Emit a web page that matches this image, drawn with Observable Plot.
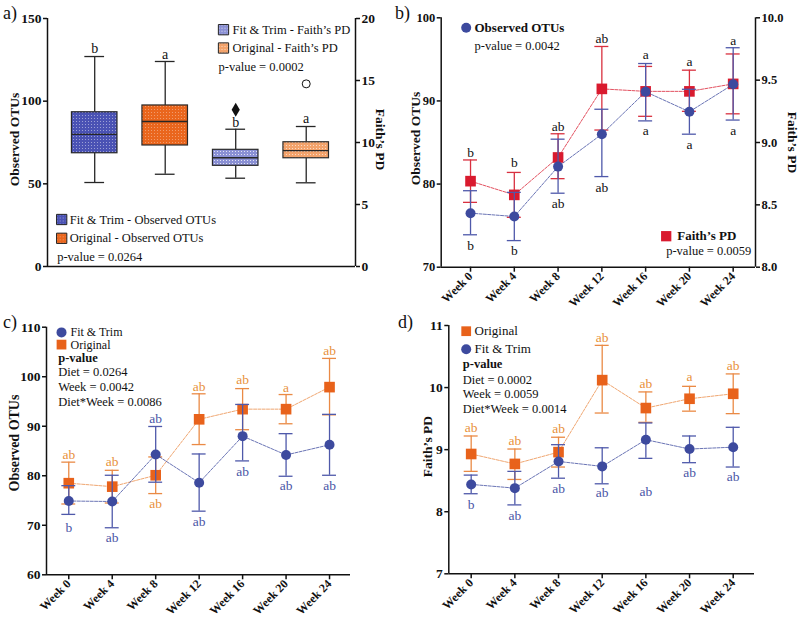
<!DOCTYPE html>
<html>
<head>
<meta charset="utf-8">
<script src="https://cdn.jsdelivr.net/npm/d3@7"></script>
<script src="https://cdn.jsdelivr.net/npm/@observablehq/plot@0.6"></script>
<style>
  html, body { margin: 0; padding: 0; background: #fff; }
  #fig { position: relative; width: 799px; height: 620px; overflow: hidden; background: #fff;
         font-family: "Liberation Serif", "Times New Roman", serif; }
  #fig svg text { font-family: "Liberation Serif", "Times New Roman", serif; }
  .plabel { position: absolute; font-size: 18px; line-height: 1; color: #111; }
</style>
</head>
<body>
<div id="fig">
  <svg width="0" height="0" style="position:absolute">
    <defs>
      <pattern id="patFtOtu" width="3" height="3" patternUnits="userSpaceOnUse">
        <rect width="3" height="3" fill="#4a52b4"/><rect x="1" y="1" width="1" height="1" fill="#ffffff" fill-opacity="0.45"/>
      </pattern>
      <pattern id="patOrOtu" width="3" height="3" patternUnits="userSpaceOnUse">
        <rect width="3" height="3" fill="#ea661d"/><rect x="1" y="1" width="1" height="1" fill="#ffffff" fill-opacity="0.35"/>
      </pattern>
      <pattern id="patFtPd" width="3" height="3" patternUnits="userSpaceOnUse">
        <rect width="3" height="3" fill="#8a90d4"/><rect x="1" y="1" width="1" height="1" fill="#ffffff" fill-opacity="0.75"/>
      </pattern>
      <pattern id="patOrPd" width="3" height="3" patternUnits="userSpaceOnUse">
        <rect width="3" height="3" fill="#f3a36c"/><rect x="1" y="1" width="1" height="1" fill="#ffffff" fill-opacity="0.6"/>
      </pattern>
    </defs>
  </svg>
  <div class="plabel" style="left:3px;top:4px">a)</div>
  <div class="plabel" style="left:395px;top:4px">b)</div>
  <div class="plabel" style="left:3px;top:313px">c)</div>
  <div class="plabel" style="left:398px;top:313px">d)</div>
</div>
<script>
// ================= DATA =================
const weeks = [0, 4, 8, 12, 16, 20, 24];
const weekLabels = ["Week 0", "Week 4", "Week 8", "Week 12", "Week 16", "Week 20", "Week 24"];

// ---- Panel a: box plots ----
const boxGroups = ["Fit & Trim - Observed OTUs", "Original - Observed OTUs", "Fit & Trim - Faith’s PD", "Original - Faith’s PD"];
const boxMetric = ["otu", "otu", "pd", "pd"];
const boxMin = [50.8, 55.8, 7.12, 6.75];
const boxQ1 = [68.5, 73.2, 8.12, 8.73];
const boxMedian = [79.9, 87.7, 8.77, 9.35];
const boxQ3 = [93.3, 97.4, 9.41, 10.02];
const boxMax = [127.0, 124.0, 11.07, 11.29];
const boxLetters = ["b", "a", "b", "a"];
const boxLetterY = [131.9, 128.2, 11.64, 11.91];
const outlierGroups = ["Fit & Trim - Faith’s PD", "Original - Faith’s PD"];
const outlierValues = [12.64, 14.73];
const aPvalueOTU = "p-value = 0.0264";
const aPvaluePD = "p-value = 0.0002";

// ---- Panel b: Observed OTUs (left) and Faith's PD (right) ----
const bOtuMean = [76.5, 76.1, 82.1, 86.0, 91.1, 88.7, 92.0];
const bOtuLow  = [73.9, 73.2, 78.9, 80.9, 87.6, 86.0, 87.7];
const bOtuHigh = [79.2, 79.0, 85.4, 89.0, 94.5, 91.4, 96.4];
const bPdMean = [8.69, 8.58, 8.88, 9.43, 9.41, 9.41, 9.47];
const bPdLow  = [8.52, 8.40, 8.71, 9.10, 9.21, 9.25, 9.23];
const bPdHigh = [8.86, 8.76, 9.07, 9.77, 9.61, 9.58, 9.71];
const bTopLetters = ["b", "b", "ab", "ab", "a", "a", "a"];
const bTopLetterY = [83.75, 82.55, 86.9, 97.5, 95.6, 94.7, 97.2];
const bBottomLetters = ["b", "b", "ab", "ab", "a", "a", "a"];
const bBottomLetterY = [72.6, 72.0, 77.6, 79.6, 86.4, 84.75, 86.4];
const bPvalueOTU = "p-value = 0.0042";
const bPvaluePD = "p-value = 0.0059";

// ---- Panel c: Observed OTUs by diet ----
const cFtMean = [74.9, 74.8, 84.3, 78.6, 88.0, 84.2, 86.25];
const cFtLow  = [72.2, 69.5, 78.7, 72.85, 83.0, 79.9, 80.1];
const cFtHigh = [78.0, 80.1, 89.95, 84.4, 94.4, 88.5, 92.4];
const cOrMean = [78.5, 77.8, 80.1, 91.4, 93.45, 93.45, 97.9];
const cOrLow  = [74.3, 74.5, 76.4, 86.3, 89.3, 90.5, 92.3];
const cOrHigh = [82.75, 81.1, 83.8, 96.55, 97.6, 96.4, 103.7];
const cOrLetters = ["ab", "ab", "ab", "ab", "ab", "a", "ab"];
const cOrLetterY = [84.2, 82.9, 74.35, 97.9, 99.4, 97.8, 105.2];
const cFtLetters = ["b", "ab", "ab", "ab", "ab", "ab", "ab"];
const cFtLetterY = [69.5, 67.4, 91.5, 70.8, 80.9, 78.0, 78.0];
const cStats = ["Diet = 0.0264", "Week = 0.0042", "Diet*Week = 0.0086"];

// ---- Panel d: Faith's PD by diet ----
const dOrMean = [8.93, 8.77, 8.96, 10.12, 9.67, 9.82, 9.90];
const dOrLow  = [8.65, 8.52, 8.72, 9.59, 9.44, 9.62, 9.58];
const dOrHigh = [9.22, 9.01, 9.20, 10.68, 9.93, 10.02, 10.22];
const dFtMean = [8.44, 8.38, 8.81, 8.73, 9.16, 9.01, 9.04];
const dFtLow  = [8.29, 8.11, 8.54, 8.45, 8.86, 8.79, 8.72];
const dFtHigh = [8.59, 8.65, 9.08, 9.03, 9.43, 9.22, 9.36];
const dOrLetters = ["ab", "ab", "ab", "ab", "ab", "a", "ab"];
const dOrLetterY = [9.35, 9.14, 9.34, 10.81, 10.06, 10.17, 10.36];
const dFtLetters = ["b", "ab", "ab", "ab", "ab", "ab", "ab"];
const dFtLetterY = [8.12, 7.94, 8.37, 8.30, 8.32, 8.63, 8.56];
const dStats = ["Diet = 0.0002", "Week = 0.0059", "Diet*Week = 0.0014"];

// ================= STYLE =================
const FONT = '"Liberation Serif", "Times New Roman", serif';
const BLUE = "#3d4a9e", BLUE_BAR = "#4f59aa", BLUE_TXT = "#4a55a6";
const RED = "#d91a2e", RED_BAR = "#d9303f";
const ORANGE = "#e8621b", ORANGE_BAR = "#ea8a45", ORANGE_TXT = "#e8913b";
const INK = "#111";
const boxFill = {
  "Fit & Trim - Observed OTUs": "url(#patFtOtu)",
  "Original - Observed OTUs": "url(#patOrOtu)",
  "Fit & Trim - Faith’s PD": "url(#patFtPd)",
  "Original - Faith’s PD": "url(#patOrPd)"
};
const fig = document.getElementById("fig");
function svgStyle(left, top) {
  return {"position": "absolute", "left": left + "px", "top": top + "px", "background": "transparent",
          "overflow": "visible", "font-family": FONT, "color": INK, "font-size": "12px"};
}
const series = (m, lo, hi) => weeks.map((w, i) => ({week: w, mean: m[i], low: lo[i], high: hi[i]}));
const letters = (t, y) => weeks.map((w, i) => ({week: w, text: t[i], y: y[i]}));
const weekFmt = d => weekLabels[weeks.indexOf(d)];

function errorMarks(data, color, capHalf, sw = 1.3) {
  return [
    Plot.ruleX(data, {x: "week", y1: "low", y2: "high", stroke: color, strokeWidth: sw}),
    Plot.ruleY(data, {y: "high", x1: d => d.week - capHalf, x2: d => d.week + capHalf, stroke: color, strokeWidth: sw}),
    Plot.ruleY(data, {y: "low", x1: d => d.week - capHalf, x2: d => d.week + capHalf, stroke: color, strokeWidth: sw})
  ];
}
const lineMark = (data, color) => Plot.line(data, {x: "week", y: "mean", stroke: color, strokeWidth: 0.9, strokeDasharray: "3 1.3", strokeOpacity: 0.85});
const legText = (text, dx, dy, o = {}) => Plot.text([text], {text: d => d, frameAnchor: "top-left", dx, dy, textAnchor: "start", lineAnchor: "middle", fontSize: 12.5, fill: INK, ...o});
const legDot = (dx, dy, o) => Plot.dot([0], {frameAnchor: "top-left", dx, dy, ...o});
const xAxisWeeks = () => Plot.axisX({ticks: weeks, tickFormat: weekFmt, tickRotate: -45, tickSize: 5, tickPadding: 2, fontWeight: "bold", fontSize: 12, strokeWidth: 1.5, label: null});
const yAxis = (ticks, fs, o = {}) => Plot.axisY({ticks, tickFormat: d3.format("d"), tickSize: 4, tickPadding: 2, fontWeight: "bold", fontSize: fs, strokeWidth: 1.5, label: null, ...o});
const yTitle = (text, anchor, dx, dy = 0, fs = 13) => Plot.text([text], {text: d => d, frameAnchor: anchor, dx, dy, rotate: anchor === "left" ? -90 : 90, textAnchor: "middle", lineAnchor: "middle", fontWeight: "bold", fontSize: fs, fill: INK});

// ================= PANEL a =================
const boxes = boxGroups.map((g, i) => ({group: g, pos: i, metric: boxMetric[i], min: boxMin[i], q1: boxQ1[i],
  median: boxMedian[i], q3: boxQ3[i], max: boxMax[i], letter: boxLetters[i], letterY: boxLetterY[i]}));
const outliers = outlierGroups.map((g, i) => ({group: g, pos: boxGroups.indexOf(g), value: outlierValues[i]}));
const BOXH = 0.323, CAPH = 0.14;
const aX = {type: "linear", domain: [-0.6695, 3.699], axis: null};
function boxMarks(data) {
  const k = "#262626";
  return [
    Plot.ruleX(data, {x: "pos", y1: "min", y2: "q1", stroke: k, strokeWidth: 1.3}),
    Plot.ruleX(data, {x: "pos", y1: "q3", y2: "max", stroke: k, strokeWidth: 1.3}),
    Plot.ruleY(data, {y: "max", x1: d => d.pos - CAPH, x2: d => d.pos + CAPH, stroke: k, strokeWidth: 1.3}),
    Plot.ruleY(data, {y: "min", x1: d => d.pos - CAPH, x2: d => d.pos + CAPH, stroke: k, strokeWidth: 1.3}),
    ...data.map(d => Plot.rect([d], {x1: e => e.pos - BOXH, x2: e => e.pos + BOXH, y1: "q1", y2: "q3",
      fill: boxFill[d.group], stroke: "#2a2a2a", strokeWidth: 1.2})),
    Plot.ruleY(data, {y: "median", x1: d => d.pos - BOXH, x2: d => d.pos + BOXH, stroke: k, strokeWidth: 1.3}),
    Plot.text(data, {x: "pos", y: "letterY", text: "letter", fontSize: 14, fill: INK})
  ];
}
const aMargins = {width: 400, height: 300, marginLeft: 47, marginRight: 45, marginTop: 18, marginBottom: 34};
const aOtu = Plot.plot({
  ...aMargins, x: aX, y: {domain: [0, 150]}, style: svgStyle(0, 0),
  marks: [
    ...boxMarks(boxes.filter(d => d.metric === "otu")),
    yAxis([0, 50, 100, 150], 13.5),
    Plot.ruleX([aX.domain[0]], {strokeWidth: 1.5}),
    Plot.ruleY([0], {strokeWidth: 1.5}),
    yTitle("Observed OTUs", "left", -33, -3, 13.5),
    legDot(14.2, 201, {symbol: "square", r: 5.8, fill: boxFill[boxGroups[0]], stroke: "#222", strokeWidth: 1}),
    legDot(14.2, 219.8, {symbol: "square", r: 5.8, fill: boxFill[boxGroups[1]], stroke: "#222", strokeWidth: 1}),
    legText(boxGroups[0], 22.3, 201),
    legText(boxGroups[1], 22.3, 219.8),
    legText(aPvalueOTU, 9.7, 238.7)
  ]
});
const aPd = Plot.plot({
  ...aMargins, x: aX, y: {domain: [0, 20]}, style: svgStyle(0, 0),
  marks: [
    ...boxMarks(boxes.filter(d => d.metric === "pd")),
    Plot.dot(outliers.filter((d, i) => i === 0), {x: "pos", y: "value", symbol: "diamond", r: 4.3, fill: INK}),
    Plot.dot(outliers.filter((d, i) => i === 1), {x: "pos", y: "value", symbol: "circle", r: 4, fill: "none", stroke: INK, strokeWidth: 1}),
    yAxis([0, 5, 10, 15, 20], 13.5, {anchor: "right"}),
    Plot.ruleX([aX.domain[1]], {strokeWidth: 1.5}),
    yTitle("Faith’s PD", "right", 25, -3, 13.5),
    legDot(176, 11.2, {symbol: "square", r: 5.8, fill: boxFill[boxGroups[2]], stroke: "#222", strokeWidth: 1}),
    legDot(176, 29.5, {symbol: "square", r: 5.8, fill: boxFill[boxGroups[3]], stroke: "#222", strokeWidth: 1}),
    legText(boxGroups[2], 185, 11.2),
    legText(boxGroups[3], 185, 29.5),
    legText(aPvaluePD, 171, 48)
  ]
});
fig.append(aOtu, aPd);

// ================= PANEL b =================
const bOtu = series(bOtuMean, bOtuLow, bOtuHigh);
const bPd = series(bPdMean, bPdLow, bPdHigh);
const bGeom = {width: 399, height: 320, marginLeft: 40.7, marginRight: 44, marginTop: 17.3, marginBottom: 53.3};
const bX = {type: "linear", domain: [-2.68, 26.04]};
const bPdPlot = Plot.plot({
  ...bGeom, x: {...bX, axis: null}, y: {domain: [8, 10]}, style: svgStyle(400, 0),
  marks: [
    ...errorMarks(bPd, RED_BAR, 0.64),
    lineMark(bPd, RED),
    Plot.dot(bPd, {x: "week", y: "mean", symbol: "square", r: 6, fill: RED}),
    yAxis([8, 8.5, 9, 9.5, 10], 12.5, {anchor: "right", tickFormat: d3.format(".1f")}),
    Plot.ruleX([bX.domain[1]], {strokeWidth: 1.5}),
    yTitle("Faith’s PD", "right", 37, 0, 13.5),
    legDot(225, 218.4, {symbol: "square", r: 5.8, fill: RED}),
    legText("Faith’s PD", 236, 218.4, {fontWeight: "bold", fontSize: 13}),
    legText(bPvaluePD, 225, 233.4)
  ]
});
const bOtuPlot = Plot.plot({
  ...bGeom, x: bX, y: {domain: [70, 100]}, style: svgStyle(400, 0),
  marks: [
    ...errorMarks(bOtu, BLUE_BAR, 0.64),
    lineMark(bOtu, BLUE),
    Plot.dot(bOtu, {x: "week", y: "mean", r: 5, fill: BLUE}),
    Plot.text(letters(bTopLetters, bTopLetterY), {x: "week", y: "y", text: "text", fontSize: 13.5, fill: INK}),
    Plot.text(letters(bBottomLetters, bBottomLetterY), {x: "week", y: "y", text: "text", fontSize: 13.5, fill: INK}),
    xAxisWeeks(),
    yAxis([70, 80, 90, 100], 12.5),
    Plot.ruleX([bX.domain[0]], {strokeWidth: 1.5}),
    Plot.ruleY([70], {strokeWidth: 1.5}),
    yTitle("Observed OTUs", "left", -25.7, -4, 13.5),
    legDot(25, 10, {r: 5, fill: BLUE}),
    legText("Observed OTUs", 33.3, 10, {fontWeight: "bold", fontSize: 13}),
    legText(bPvalueOTU, 33.3, 28.4)
  ]
});
fig.append(bPdPlot, bOtuPlot);

// ================= PANEL c =================
const cFt = series(cFtMean, cFtLow, cFtHigh);
const cOr = series(cOrMean, cOrLow, cOrHigh);
const cX = {type: "linear", domain: [-2.05, 25.93]};
const cPlot = Plot.plot({
  width: 400, height: 320, marginLeft: 46, marginRight: 50, marginTop: 26.7, marginBottom: 45.7,
  x: cX, y: {domain: [60, 110]}, style: svgStyle(0, 300),
  marks: [
    ...errorMarks(cOr, ORANGE_BAR, 0.64),
    lineMark(cOr, ORANGE_BAR),
    Plot.dot(cOr, {x: "week", y: "mean", symbol: "square", r: 6, fill: ORANGE}),
    ...errorMarks(cFt, BLUE_BAR, 0.64),
    lineMark(cFt, BLUE),
    Plot.dot(cFt, {x: "week", y: "mean", r: 5, fill: BLUE}),
    Plot.text(letters(cOrLetters, cOrLetterY), {x: "week", y: "y", text: "text", fill: ORANGE_TXT, fontSize: 13.5}),
    Plot.text(letters(cFtLetters, cFtLetterY), {x: "week", y: "y", text: "text", fill: BLUE_TXT, fontSize: 13.5}),
    xAxisWeeks(),
    yAxis([60, 70, 80, 90, 100, 110], 13.5),
    Plot.ruleX([cX.domain[0]], {strokeWidth: 1.5}),
    Plot.ruleY([60], {strokeWidth: 1.5}),
    yTitle("Observed OTUs", "left", -32, -8, 14),
    legDot(15, 5.2, {r: 5, fill: BLUE}),
    legText("Fit & Trim", 24, 4.8, {fontSize: 12}),
    legDot(15, 17.4, {symbol: "square", r: 5.5, fill: ORANGE}),
    legText("Original", 24, 18, {fontSize: 12}),
    legText("p-value", 11.7, 30.5, {fontWeight: "bold", fontSize: 12.5}),
    ...cStats.map((s, i) => legText(s, 11.7, 44.6 + 14.9 * i, {fontSize: 12.5}))
  ]
});
fig.append(cPlot);

// ================= PANEL d =================
const dFt = series(dFtMean, dFtLow, dFtHigh);
const dOr = series(dOrMean, dOrLow, dOrHigh);
const dX = {type: "linear", domain: [-2.05, 25.95]};
const dPlot = Plot.plot({
  width: 399, height: 320, marginLeft: 48.3, marginRight: 45, marginTop: 25, marginBottom: 46.7,
  x: dX, y: {domain: [7, 11]}, style: svgStyle(400, 300),
  marks: [
    ...errorMarks(dOr, ORANGE_BAR, 0.64),
    lineMark(dOr, ORANGE_BAR),
    Plot.dot(dOr, {x: "week", y: "mean", symbol: "square", r: 6, fill: ORANGE}),
    ...errorMarks(dFt, BLUE_BAR, 0.64),
    lineMark(dFt, BLUE),
    Plot.dot(dFt, {x: "week", y: "mean", r: 5, fill: BLUE}),
    Plot.text(letters(dOrLetters, dOrLetterY), {x: "week", y: "y", text: "text", fill: ORANGE_TXT, fontSize: 13.5}),
    Plot.text(letters(dFtLetters, dFtLetterY), {x: "week", y: "y", text: "text", fill: BLUE_TXT, fontSize: 13.5}),
    xAxisWeeks(),
    yAxis([7, 8, 9, 10, 11], 13.5),
    Plot.ruleX([dX.domain[0]], {strokeWidth: 1.5}),
    Plot.ruleY([7], {strokeWidth: 1.5}),
    yTitle("Faith’s PD", "left", -21.6, -3, 13.5),
    legDot(17.4, 5.7, {symbol: "square", r: 5.5, fill: ORANGE}),
    legText("Original", 25.7, 5.7, {fontSize: 13}),
    legDot(17.4, 23.7, {r: 5, fill: BLUE}),
    legText("Fit & Trim", 25.7, 23.7, {fontSize: 13}),
    legText("p-value", 14, 38.3, {fontWeight: "bold", fontSize: 12.5}),
    ...dStats.map((s, i) => legText(s, 14, 54 + 14.85 * i, {fontSize: 12.5}))
  ]
});
fig.append(dPlot);
</script>
</body>
</html>
